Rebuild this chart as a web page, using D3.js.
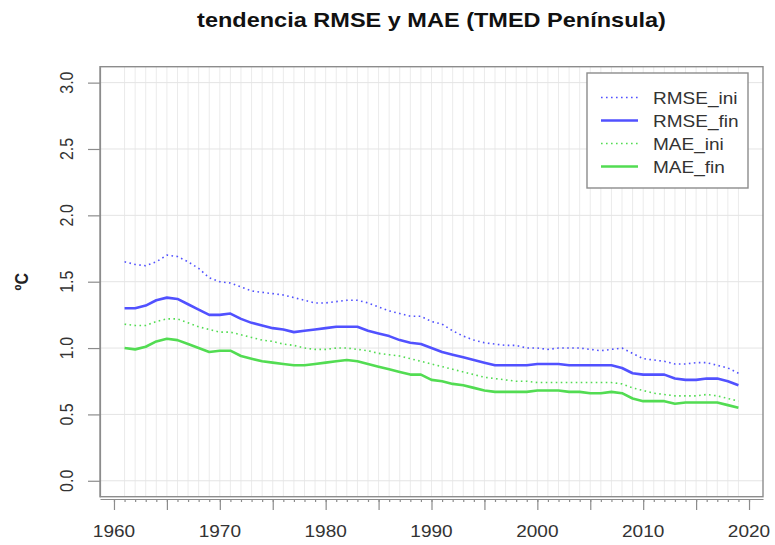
<!DOCTYPE html>
<html>
<head>
<meta charset="utf-8">
<script src="https://cdn.jsdelivr.net/npm/d3@7"></script>
<style>
  html, body { margin: 0; padding: 0; background: #fff; }
  svg text { font-family: "Liberation Sans", Arial, sans-serif; }
</style>
</head>
<body>
<svg id="chart" width="775" height="545"></svg>
<script>
// Annual series, 1961–2019
const years = d3.range(1961, 2020);

const rmseIni = [1.65,1.63,1.62,1.65,1.70,1.69,1.65,1.60,1.53,1.50,
                 1.49,1.46,1.43,1.42,1.41,1.40,1.38,1.36,1.34,1.34,
                 1.35,1.36,1.36,1.34,1.31,1.28,1.26,1.24,1.24,1.20,
                 1.18,1.13,1.09,1.06,1.04,1.03,1.02,1.02,1.00,1.00,
                 0.99,1.00,1.00,1.00,0.99,0.98,0.99,1.00,0.96,0.92,
                 0.91,0.90,0.88,0.88,0.89,0.89,0.87,0.85,0.81];

const rmseFin = [1.30,1.30,1.32,1.36,1.38,1.37,1.33,1.29,1.25,1.25,
                 1.26,1.22,1.19,1.17,1.15,1.14,1.12,1.13,1.14,1.15,
                 1.16,1.16,1.16,1.13,1.11,1.09,1.06,1.04,1.03,1.00,
                 0.97,0.95,0.93,0.91,0.89,0.87,0.87,0.87,0.87,0.88,
                 0.88,0.88,0.87,0.87,0.87,0.87,0.87,0.85,0.81,0.80,
                 0.80,0.80,0.77,0.76,0.76,0.77,0.77,0.75,0.72];

const maeIni = [1.18,1.17,1.17,1.20,1.22,1.22,1.19,1.16,1.14,1.12,
                1.12,1.10,1.08,1.06,1.05,1.03,1.02,1.00,0.99,0.99,
                1.00,1.00,0.99,0.98,0.96,0.95,0.94,0.92,0.90,0.88,
                0.86,0.84,0.82,0.80,0.78,0.77,0.76,0.75,0.75,0.74,
                0.74,0.74,0.74,0.74,0.74,0.74,0.74,0.73,0.70,0.68,
                0.66,0.65,0.64,0.64,0.64,0.65,0.64,0.62,0.60];

const maeFin = [1.00,0.99,1.01,1.05,1.07,1.06,1.03,1.00,0.97,0.98,
                0.98,0.94,0.92,0.90,0.89,0.88,0.87,0.87,0.88,0.89,
                0.90,0.91,0.90,0.88,0.86,0.84,0.82,0.80,0.80,0.76,
                0.75,0.73,0.72,0.70,0.68,0.67,0.67,0.67,0.67,0.68,
                0.68,0.68,0.67,0.67,0.66,0.66,0.67,0.66,0.62,0.60,
                0.60,0.60,0.58,0.59,0.59,0.59,0.59,0.57,0.55];

const seriesNames = ["RMSE_ini", "RMSE_fin", "MAE_ini", "MAE_fin"];
const xTicksMajor = d3.range(1960, 2021, 5);
const xTickLabels = [1960, 1970, 1980, 1990, 2000, 2010, 2020];
const yTicks = [0, 0.5, 1, 1.5, 2, 2.5, 3];

const titleText = "tendencia RMSE y MAE (TMED Península)";
const yLabel = "ºC";

const blue = "#5151ff", green = "#52dc52";
const series = [
  { name: seriesNames[0], values: rmseIni, color: blue,  dotted: true },
  { name: seriesNames[1], values: rmseFin, color: blue,  dotted: false },
  { name: seriesNames[2], values: maeIni,  color: green, dotted: true },
  { name: seriesNames[3], values: maeFin,  color: green, dotted: false }
];

// text is drawn slightly widened horizontally
const sx = 1.12;

const svg = d3.select("#chart");
const plot = { left: 100, right: 763, top: 66.7, bottom: 496.7 };

const x = d3.scaleLinear().domain([1958.68, 2021.32]).range([plot.left, plot.right]);
const y = d3.scaleLinear().domain([-0.12, 3.12]).range([plot.bottom, plot.top]);

// grid
const grid = svg.append("g");
grid.selectAll("line.v").data(years).join("line")
  .attr("x1", d => x(d)).attr("x2", d => x(d))
  .attr("y1", plot.top).attr("y2", plot.bottom)
  .attr("stroke", "#ebebeb").attr("stroke-width", 1);
grid.selectAll("line.h").data(yTicks).join("line")
  .attr("x1", plot.left).attr("x2", plot.right)
  .attr("y1", d => y(d)).attr("y2", d => y(d))
  .attr("stroke", "#e4e4e4").attr("stroke-width", 1);

// series
const line = d3.line().x((d, i) => x(years[i])).y(d => y(d));
svg.append("g").selectAll("path").data(series).join("path")
  .attr("d", d => line(d.values))
  .attr("fill", "none")
  .attr("stroke", d => d.color)
  .attr("stroke-width", d => d.dotted ? 1.6 : 2.6)
  .attr("stroke-dasharray", d => d.dotted ? "1.6,3.4" : null)
  .attr("stroke-linejoin", "round");

// frame
svg.append("rect")
  .attr("x", plot.left).attr("y", plot.top)
  .attr("width", plot.right - plot.left).attr("height", plot.bottom - plot.top)
  .attr("fill", "none").attr("stroke", "#8c8c8c").attr("stroke-width", 1.4);

// x axis
const axisCol = "#8c8c8c";
const xAxisY = 499;
const xAxis = svg.append("g").attr("transform", `translate(0,${xAxisY})`);
xAxis.append("g")
  .call(d3.axisBottom(x).tickValues(d3.range(1960, 2021)).tickSize(3).tickFormat(""))
  .call(g => g.select(".domain").remove())
  .call(g => g.selectAll("line").attr("stroke", axisCol).attr("stroke-width", 1.2));
xAxis.append("g")
  .call(d3.axisBottom(x).tickValues(xTicksMajor).tickSize(11).tickSizeOuter(0).tickFormat(""))
  .call(g => g.select(".domain").attr("stroke", axisCol).attr("stroke-width", 1.2))
  .call(g => g.selectAll("line").attr("stroke", axisCol).attr("stroke-width", 1.2));
xAxis.append("g").selectAll("text").data(xTickLabels).join("text")
  .attr("transform", d => `translate(${x(d)},38) scale(${sx},1)`)
  .attr("text-anchor", "middle")
  .attr("font-size", 17).attr("fill", "#333")
  .text(d => d);

// y axis
const yAxis = svg.append("g").attr("transform", `translate(${plot.left},0)`);
yAxis.call(d3.axisLeft(y).tickValues(yTicks).tickSize(12).tickSizeOuter(0).tickFormat(""))
  .call(g => g.select(".domain").attr("stroke", axisCol).attr("stroke-width", 1.2))
  .call(g => g.selectAll("line").attr("stroke", axisCol).attr("stroke-width", 1.2));
yAxis.selectAll("text.lab").data(yTicks).join("text")
  .attr("class", "lab")
  .attr("transform", d => `translate(-27,${y(d)}) scale(${sx},1) rotate(-90)`)
  .attr("text-anchor", "middle")
  .attr("font-size", 16).attr("fill", "#333")
  .text(d => d3.format(".1f")(d));

svg.append("text")
  .attr("transform", `translate(28,${(plot.top + plot.bottom) / 2}) scale(${sx},1) rotate(-90)`)
  .attr("text-anchor", "middle")
  .attr("font-size", 16).attr("font-weight", "bold").attr("fill", "#222")
  .text(yLabel);

// title
svg.append("text")
  .attr("transform", `translate(${(plot.left + plot.right) / 2},27) scale(${sx},1)`)
  .attr("text-anchor", "middle")
  .attr("font-size", 21).attr("font-weight", "bold").attr("fill", "#111")
  .text(titleText);

// legend
const leg = svg.append("g");
leg.append("rect")
  .attr("x", 587).attr("y", 73).attr("width", 161).attr("height", 115)
  .attr("fill", "#fff").attr("stroke", "#8c8c8c").attr("stroke-width", 1.4);
const rows = leg.selectAll("g.row").data(series).join("g")
  .attr("transform", (d, i) => `translate(0,${97.5 + i * 23})`);
rows.append("line")
  .attr("x1", 601).attr("x2", 638).attr("y1", 0).attr("y2", 0)
  .attr("stroke", d => d.color)
  .attr("stroke-width", d => d.dotted ? 1.6 : 2.6)
  .attr("stroke-dasharray", d => d.dotted ? "1.6,3.4" : null);
rows.append("text")
  .attr("transform", "translate(653,6) scale(" + sx + ",1)")
  .attr("font-size", 17).attr("fill", "#333")
  .text(d => d.name);
</script>
</body>
</html>
